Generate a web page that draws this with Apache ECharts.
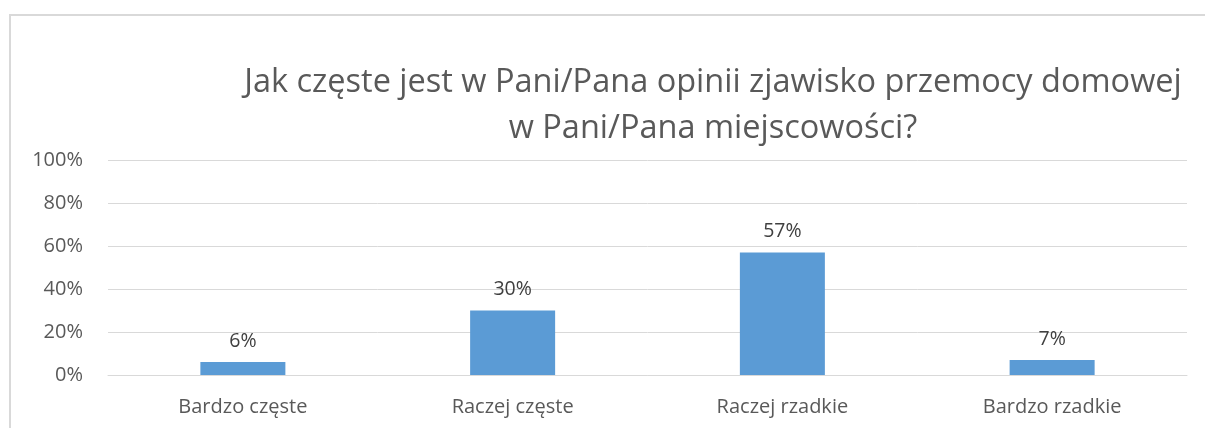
<!DOCTYPE html>
<html>
<head>
<meta charset="utf-8">
<script src="https://cdn.jsdelivr.net/npm/echarts@6/dist/echarts.min.js"></script>
<style>
html, body { margin: 0; padding: 0; background: #fff; }
#frame {
    position: absolute; left: 9px; top: 14px; width: 1205px; height: 428px;
    border-top: 2px solid #d9d9d9; border-left: 2px solid #d9d9d9;
}
#chart { position: absolute; left: 0; top: 0; width: 1205px; height: 428px; }
</style>
</head>
<body>
<div id="frame"></div>
<div id="chart"></div>
<script>
const titleText = 'Jak częste jest w Pani/Pana opinii zjawisko przemocy domowej\nw Pani/Pana miejscowości?';
const categories = ['Bardzo częste', 'Raczej częste', 'Raczej rzadkie', 'Bardzo rzadkie'];
const values = [6, 30, 57, 7];

const font = '"Open Sans", "Noto Sans", sans-serif';
const myChart = echarts.init(document.getElementById('chart'));
let option = {
    animation: false,
    title: {
        text: titleText,
        left: 708,
        top: 55,
        textAlign: 'center',
        textStyle: {
            color: '#595959',
            fontFamily: font,
            fontWeight: 'normal',
            fontSize: 32.5,
            lineHeight: 46
        }
    },
    grid: {
        left: 108,
        right: 18,
        top: 160,
        bottom: 53
    },
    xAxis: {
        type: 'category',
        data: categories,
        axisLine: { show: true, lineStyle: { color: '#d9d9d9', width: 1 } },
        axisTick: { show: false },
        axisLabel: {
            color: '#595959',
            fontFamily: font,
            fontSize: 20,
            margin: 22
        }
    },
    yAxis: {
        type: 'value',
        min: 0,
        max: 100,
        interval: 20,
        axisLine: { show: false },
        axisTick: { show: false },
        splitLine: { lineStyle: { color: '#d9d9d9', width: 1 } },
        axisLabel: {
            color: '#595959',
            fontFamily: font,
            fontSize: 20,
            margin: 25,
            formatter: '{value}%'
        }
    },
    series: [
        {
            type: 'bar',
            data: values,
            barWidth: 85,
            itemStyle: { color: '#5b9bd5' },
            label: {
                show: true,
                position: 'top',
                distance: 11,
                color: '#404040',
                fontFamily: font,
                fontSize: 19.5,
                formatter: '{c}%'
            }
        }
    ]
};
option && myChart.setOption(option);
</script>
</body>
</html>
